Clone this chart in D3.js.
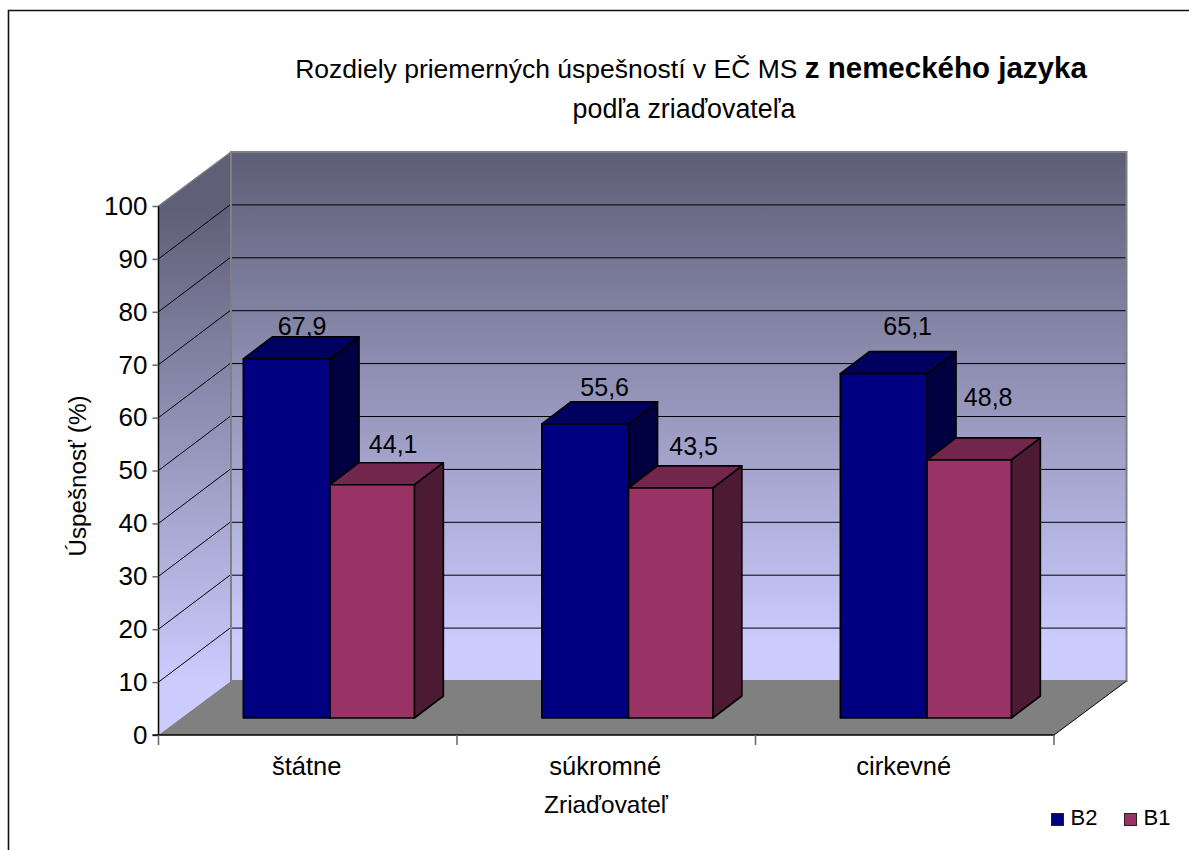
<!DOCTYPE html>
<html><head><meta charset="utf-8">
<script src="https://cdn.jsdelivr.net/npm/d3@7/dist/d3.min.js"></script>
<style>html,body{margin:0;padding:0;background:#fff}svg{display:block}text{font-family:"Liberation Sans",Arial,sans-serif;fill:#000}</style>
</head><body><div id="c"></div>
<script>
const categories = ["štátne", "súkromné", "cirkevné"];
const seriesNames = ["B2", "B1"];
const seriesB2 = [67.9, 55.6, 65.1];
const seriesB1 = [44.1, 43.5, 48.8];
const yTicks = [0,10,20,30,40,50,60,70,80,90,100];
const titleLine1a = "Rozdiely priemerných úspešností v EČ MS ";
const titleLine1b = "z nemeckého jazyka";
const titleLine2 = "podľa zriaďovateľa";
const xTitle = "Zriaďovateľ";
const yTitle = "Úspešnosť (%)";

const W=1189,H=850;
const svg=d3.select("#c").append("svg").attr("width",W).attr("height",H);
const defs=svg.append("defs");
function grad(id,y1,y2){
  const g=defs.append("linearGradient").attr("id",id).attr("gradientUnits","userSpaceOnUse")
    .attr("x1",0).attr("x2",0).attr("y1",y1).attr("y2",y2);
  g.append("stop").attr("offset",0).attr("stop-color","#5f5f78");
  g.append("stop").attr("offset",1).attr("stop-color","#ccccff");
}
grad("gBack",158,645); grad("gSide",206,685);

// frame
svg.append("path").attr("d",`M8.5,850V10.5H${W}`).attr("fill","none").attr("stroke","#111").attr("stroke-width",1.6);

const left=158.5,right=1054,y0=735,y100=206,depthX=72.5,depthY=54;
const y=d3.scaleLinear().domain([0,100]).range([y0,y100]);
const xFront=d3.scaleBand().domain(categories).range([left,right]);
// bars sit part of the way back along the floor
const barDx=21.1,barDy=17,faceDx=29,faceDy=22;
const xBars=d3.scaleBand().domain(categories).range([left+barDx,right+barDx]).paddingInner(.427).paddingOuter(.2135);
const b2Share=.507;
const innerX={B2:0,B1:xBars.bandwidth()*b2Share};
const innerW={B2:xBars.bandwidth()*b2Share,B1:xBars.bandwidth()*(1-b2Share)};
const poly=p=>"M"+p.map(d=>d.join(",")).join("L")+"Z";

// walls
svg.append("path").attr("d",poly([[left+depthX,y100-depthY],[right+depthX,y100-depthY],[right+depthX,y0-depthY],[left+depthX,y0-depthY]]))
  .attr("fill","url(#gBack)").attr("stroke","#808080").attr("stroke-width",2);
svg.append("path").attr("d",poly([[left,y0],[left,y100],[left+depthX,y100-depthY],[left+depthX,y0-depthY]]))
  .attr("fill","url(#gSide)").attr("stroke","none");
svg.append("line").attr("x1",left).attr("y1",y100).attr("x2",left+depthX).attr("y2",y100-depthY).attr("stroke","#808080").attr("stroke-width",1.5);
// floor
svg.append("path").attr("d",poly([[left,y0],[right,y0],[right+depthX,y0-depthY],[left+depthX,y0-depthY]])).attr("fill","#808080");
// gridlines
const gridV=yTicks.filter(v=>v>0&&v<100);
svg.append("g").selectAll("path").data(gridV).join("path")
  .attr("d",v=>`M${left},${y(v)}L${left+depthX-1},${y(v)-depthY}`).attr("fill","none").attr("stroke","#000").attr("stroke-width",1);
svg.append("g").selectAll("line").data(gridV).join("line")
  .attr("x1",left+depthX+1).attr("x2",right+depthX-1).attr("y1",v=>y(v)-depthY).attr("y2",v=>y(v)-depthY).attr("stroke","#000").attr("stroke-width",1);
svg.append("line").attr("x1",left+depthX).attr("x2",left+depthX).attr("y1",y100-depthY).attr("y2",y0-depthY).attr("stroke","#808080").attr("stroke-width",2);
svg.append("line").attr("x1",right).attr("y1",y0).attr("x2",right+depthX).attr("y2",y0-depthY).attr("stroke","#000").attr("stroke-width",1);

// axes
const axL=svg.append("g").attr("transform",`translate(${left},0)`).call(d3.axisLeft(y).tickValues(yTicks).tickSize(6).tickPadding(5));
axL.select(".domain").attr("stroke","#000").attr("stroke-width",1.5).attr("d",`M0,${y100}V${y0}`);
axL.selectAll(".tick line").attr("stroke","#666").attr("stroke-width",1.5);
axL.selectAll("text").style("font-size","26px").style("font-family",'"Liberation Sans"');
const axB=svg.append("g").attr("transform",`translate(0,${y0})`);
axB.append("line").attr("x1",left-6).attr("x2",right).attr("stroke","#000").attr("stroke-width",1.5);
const bounds=[left,...categories.map(c=>xFront(c)+xFront.step())];
axB.selectAll("line.t").data(bounds).join("line").attr("class","t").attr("x1",d=>d).attr("x2",d=>d).attr("y1",0).attr("y2",10).attr("stroke","#666").attr("stroke-width",1.5);
axB.selectAll("text").data(categories).join("text").attr("x",c=>xFront(c)+xFront.bandwidth()/2-1).attr("y",40)
  .attr("text-anchor","middle").style("font-size","25.5px").text(c=>c);

// bars
const series=[{name:"B2",vals:seriesB2,front:"#000080",top:"#000060",side:"#000040"},
              {name:"B1",vals:seriesB1,front:"#993366",top:"#73264d",side:"#4d1a33"}];
const baseY=y0-barDy;
const hOf=v=>y0-y(v);
categories.forEach((c,i)=>{
  series.forEach(s=>{
    const x0=xBars(c)+innerX[s.name],x1=x0+innerW[s.name],t=baseY-hOf(s.vals[i]);
    const g=svg.append("g").attr("stroke","#000").attr("stroke-width",1.6).attr("stroke-linejoin","round");
    g.append("path").attr("d",poly([[x1,baseY],[x1+faceDx,baseY-faceDy],[x1+faceDx,t-faceDy],[x1,t]])).attr("fill",s.side);
    g.append("path").attr("d",poly([[x0,t],[x0+faceDx,t-faceDy],[x1+faceDx,t-faceDy],[x1,t]])).attr("fill",s.top);
    g.append("rect").attr("x",x0).attr("y",t).attr("width",x1-x0).attr("height",baseY-t).attr("fill",s.front);
  });
});
// data labels: [dx from bar centre, baseline above the bar's back top edge]
const labelNudge={B2:[[15.5,2],[19.5,6],[24,17]],B1:[[21,10],[23,11],[19,32]]};
series.forEach(s=>categories.forEach((c,i)=>{
  const x0=xBars(c)+innerX[s.name],cx=x0+innerW[s.name]/2,t=baseY-hOf(s.vals[i])-faceDy;
  const n=labelNudge[s.name][i];
  svg.append("text").attr("x",cx+n[0]).attr("y",t-n[1]).attr("text-anchor","middle").style("font-size","25px").text(String(s.vals[i]).replace(".",","));
}));

// titles
const tt=svg.append("text").attr("x",691).attr("y",78).attr("text-anchor","middle").style("font-size","26.5px");
tt.append("tspan").text(titleLine1a);
tt.append("tspan").attr("font-weight","bold").style("font-size","29.5px").text(titleLine1b);
svg.append("text").attr("x",684).attr("y",118).attr("text-anchor","middle").style("font-size","26.8px").text(titleLine2);
svg.append("text").attr("x",606).attr("y",813).attr("text-anchor","middle").style("font-size","24.4px").text(xTitle);
svg.append("text").attr("transform","translate(86,476) rotate(-90)").attr("text-anchor","middle").style("font-size","24.2px").text(yTitle);

// legend
const legX=d3.scalePoint().domain(seriesNames).range([1051.5,1124.5]);
series.forEach(s=>{
  svg.append("rect").attr("x",legX(s.name)).attr("y",813.5).attr("width",12).attr("height",12).attr("fill",s.front).attr("stroke","#222").attr("stroke-width",1);
  svg.append("text").attr("x",legX(s.name)+19).attr("y",825).style("font-size","22px").text(s.name);
});
</script></body></html>
